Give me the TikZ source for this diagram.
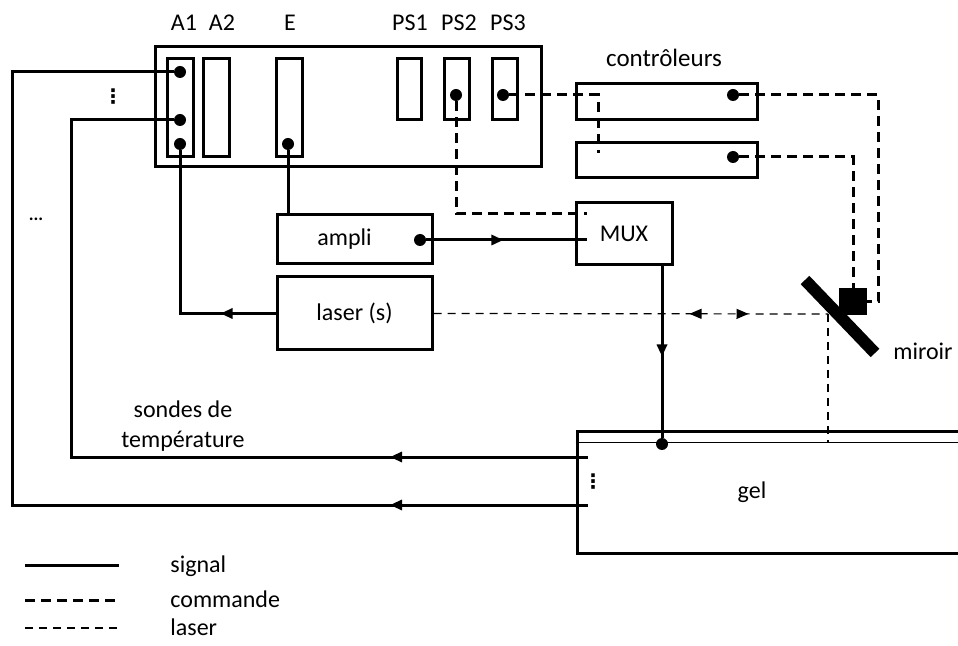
\documentclass[tikz,border=0pt]{standalone}
\usepackage{fontspec}
\setmainfont{Carlito}
\newfontfamily\symfont{DejaVu Sans}
\usetikzlibrary{arrows.meta, positioning, calc, fit, decorations.markings}

\tikzset{
  box/.style={draw, line width=1.5pt, inner sep=0pt},
  dot/.style={circle, fill, inner sep=0pt, minimum size=6pt},
  sig/.style={line width=1.5pt},
  cmd/.style={line width=1.5pt, dash pattern=on 5pt off 3pt},
  las/.style={line width=0.6pt, dash pattern=on 4pt off 3pt},
  txt/.style={inner sep=0pt, font=\fontsize{12}{15}\selectfont},
  vdotstxt/.style={inner sep=0pt, font=\fontsize{10}{10}\symfont\bfseries},
  arrowat/.style={postaction={decorate}, decoration={markings,
      mark=at position #1 with {\arrow{Triangle[length=6pt,width=5pt]}}}},
  twoway/.style 2 args={postaction={decorate}, decoration={markings,
      mark=at position #1 with {\arrowreversed{Triangle[length=6pt,width=5pt]}},
      mark=at position #2 with {\arrow{Triangle[length=6pt,width=5pt]}}}}
}

\begin{document}
\begin{tikzpicture}[x=0.5pt, y=-0.5pt]
    \useasboundingbox (0,0) rectangle (958,646);

    % acquisition card and its slots
    \node[box, fit={(155,47) (541,167)}] (card) {};
    \node[box, fit={(167,59) (193,157)}] (A1) {};
    \node[box, fit={(203,59) (229,157)}] (A2) {};
    \node[box, fit={(276,59) (302,157)}] (E) {};
    \node[box, fit={(397,59) (421,120)}] (PS1) {};
    \node[box, fit={(444,59) (469,120)}] (PS2) {};
    \node[box, fit={(492,59) (517,120)}] (PS3) {};
    \node[txt] (lA1) at (184,23) {A1};
    \node[txt] (lA2) at (222,23) {A2};
    \node[txt] (lE) at (290,23) {E};
    \node[txt] (lPS1) at (410,23) {PS1};
    \node[txt] (lPS2) at (459,23) {PS2};
    \node[txt] (lPS3) at (508,23) {PS3};
    \node[dot] (a1a) at (180,72) {};
    \node[dot] (a1b) at (180,120) {};
    \node[dot] (a1c) at (180,144) {};
    \node[dot] (e1) at (288,144) {};
    \node[dot] (ps2d) at (456,95) {};
    \node[dot] (ps3d) at (503,95) {};
    \node[vdotstxt] (vd1) at (113,97) {⋮};
    \node[txt, font=\fontsize{9}{9}\selectfont\bfseries] (hd1) at (36,219) {...};

    % controllers
    \node[txt, font=\fontsize{12.5}{15}\selectfont] (lctrl) at (664,58) {contrôleurs};
    \node[box, fit={(576,84) (757,120)}] (ctrl1) {};
    \node[box, fit={(576,143) (757,178)}] (ctrl2) {};
    \node[dot] (c1d) at (733,95) {};
    \node[dot] (c2d) at (733,157) {};

    % ampli, laser, MUX
    \node[box, fit={(277,215) (432,264)}, label={[txt, xshift=-5pt]center:ampli}] (ampli) {};
    \node[box, fit={(277,277) (432,350)}, label={[txt]center:laser (s)}] (laser) {};
    \node[box, fit={(576,203) (672,265)}, label={[txt]center:MUX}] (mux) {};
    \node[dot] (ampd) at (420,240) {};

    % mirror
    \draw[line width=6pt] (805,280) -- (875,353);
    \node[fill, inner sep=0pt, fit={(839,288) (867,315)}] (blk) {};
    \coordinate (mirpt) at (828,314);
    \node[txt] (lmir) at (923,351) {miroir};

    % gel
    \node[box, fit={(577,432) (975,553)}] (gel) {};
    \draw[line width=0.6pt] ($(gel.north west)+(0,12)$) coordinate (gelin) -- ($(gel.north east)+(0,12)$);
    \node[dot] (gd) at (662,444) {};
    \node[txt] (lgel) at (752,492) {gel};
    \node[vdotstxt] (vd2) at (593,482) {⋮};
    \coordinate (t1) at (588,505);
    \coordinate (t2) at (588,457);
    \node[txt, align=center] (lsondes) at (183,426) {sondes de\\température};

    % signal lines
    \draw[sig, arrowat=99pt] (t1) -| (12,72) -- (a1a);
    \draw[sig, arrowat=99pt] (t2) -| (71,120) -- (a1b);
    \draw[sig, arrowat=27.5pt] (laser.west) -| (a1c);
    \draw[sig] (e1) -- (e1 |- ampli.north);
    \draw[sig, arrowat=38.5pt] (ampd) -- ($(ampd -| mux.west)+(12,0)$);
    \draw[sig, arrowat=45pt] (gd |- mux.south) -- (gd);

    % command lines
    \draw[cmd] (ps2d) |- ($(mux.north west)+(12,12)$);
    \draw[cmd] (ps3d) -| ($(ctrl2.north west)+(24,12)$);
    \draw[cmd] (c1d) -| ($(blk.east)+(11,0)$) -- (blk.east);
    \draw[cmd] (c2d) -| (blk.north);

    % laser beam
    \draw[las, twoway={128pt}{157.5pt}] (laser.east) -- (mirpt);
    \draw[las] (mirpt) -- (mirpt |- gelin);

    % legend
    \node[txt, anchor=base west] (lgsig) at (170,572) {signal};
    \node[txt, anchor=base west] (lgcmd) at (170,607) {commande};
    \node[txt, anchor=base west] (lglas) at (170,635) {laser};
    \draw[sig] (25,565) -- (119,565);
    \draw[cmd] (25,600) -- (119,600);
    \draw[las] (25,628) -- (119,628);
\end{tikzpicture}
\end{document}
